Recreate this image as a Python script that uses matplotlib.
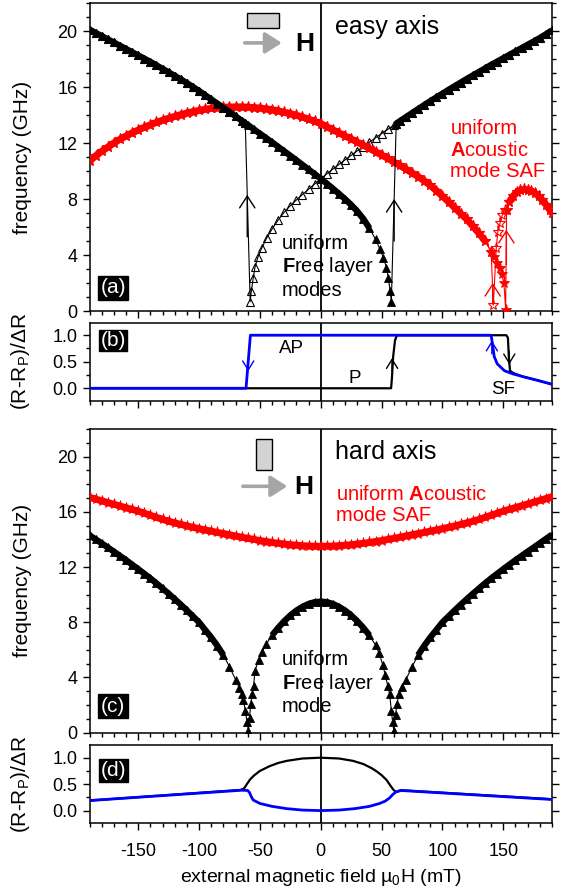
import numpy as np
import matplotlib
matplotlib.use("Agg")
import matplotlib.pyplot as plt
from matplotlib.patches import Rectangle
from matplotlib.ticker import MultipleLocator

plt.rcParams['font.family'] = ['Liberation Sans', 'DejaVu Sans']
plt.rcParams['mathtext.fontset'] = 'custom'
plt.rcParams['mathtext.rm'] = 'Liberation Sans'
plt.rcParams['mathtext.bf'] = 'Liberation Sans:bold'
plt.rcParams['mathtext.it'] = 'Liberation Sans:italic'
plt.rcParams['axes.unicode_minus'] = False

# ---------- (a) easy axis, free layer (field in mT, frequency in GHz)
fl_desc_h = list(range(-190, -64, 5)) + [-62] + list(range(-60, 46, 5)) + [48.5, 51.5, 54, 55.5, 57, 58]
fl_desc_f = [20.10, 19.87, 19.64, 19.41, 19.18, 18.95, 18.72, 18.49, 18.26, 18.03,
             17.80, 17.55, 17.30, 17.05, 16.80, 16.55, 16.28, 16.00, 15.72, 15.42,
             15.12, 14.82, 14.52, 14.22, 13.91, 13.60,
             13.42,
             13.30, 12.98, 12.67, 12.36, 12.05, 11.73, 11.41, 11.09, 10.77, 10.44,
             10.11, 9.78, 9.45, 9.10, 8.74, 8.37, 7.99, 7.58, 7.12, 6.58, 5.92, 5.12,
             4.45, 3.80, 3.10, 2.35, 1.45, 0.67]
fl_rise_h = [-58, -57, -55.5, -54, -51.5, -48.5, -44.5] + list(range(-40, 61, 5)) + [62] + list(range(65, 191, 5))
fl_rise_f = [0.67, 1.45, 2.33, 3.15, 3.88, 4.50, 5.20,
             5.85, 6.50, 7.05, 7.52, 7.93, 8.32, 8.70, 9.07, 9.45, 9.80, 10.14,
             10.47, 10.80, 11.12, 11.44, 11.75, 12.06, 12.37, 12.67, 12.97, 13.27,
             13.39,
             13.56, 13.85, 14.14, 14.43, 14.71, 14.99, 15.26, 15.53, 15.80, 16.06,
             16.32, 16.58, 16.83, 17.08, 17.33, 17.58, 17.82, 18.06, 18.30, 18.54,
             18.78, 19.02, 19.26, 19.50, 19.77, 20.05]

# ---------- (a) easy axis, acoustic mode of the SAF
saf_main_h = list(range(-190, 141, 5)) + [142.5]
saf_main_f = [10.75, 11.08, 11.40, 11.70, 12.00, 12.26, 12.50, 12.72, 12.92, 13.12,
              13.30, 13.47, 13.62, 13.77, 13.90, 14.03, 14.14, 14.24, 14.33, 14.41,
              14.47, 14.52, 14.55, 14.57, 14.58, 14.58, 14.56,
              14.53, 14.50, 14.44, 14.38, 14.30, 14.20, 14.10, 13.98, 13.85, 13.70,
              13.55, 13.38,
              13.16, 12.94, 12.72, 12.50, 12.29, 12.06, 11.84, 11.61, 11.38, 11.14,
              10.90, 10.64, 10.40, 10.13, 9.86, 9.60, 9.30, 8.97, 8.60, 8.20,
              7.80, 7.38, 6.96, 6.55, 6.05, 5.55, 5.00, 4.25,
              3.85]
saf_up_h = [145, 147.2, 148.6, 150.5, 151.9]
saf_up_f = [3.40, 3.05, 2.64, 1.98, 0.07]
saf_lobe_h = [152.7, 155, 158, 161, 164, 167, 170, 173, 176, 179, 182, 185, 188, 190]
saf_lobe_f = [7.20, 7.80, 8.20, 8.48, 8.63, 8.68, 8.66, 8.57, 8.42, 8.20, 7.92, 7.60, 7.25, 7.00]
saf_down_h = [151, 149.2, 147.2, 145.5, 144.2, 141.8]
saf_down_f = [7.20, 6.86, 6.26, 5.67, 4.48, 0.43]

# ---------- (b) easy axis magnetoresistance
mr_a_up_h = [-190, 57.8, 58.5, 59.5, 61, 62.5, 152.5, 153.8, 154.5, 155.5, 158, 166, 178, 190]
mr_a_up_v = [0, 0, 0.2, 0.6, 0.9, 1.0, 1.0, 0.95, 0.6, 0.33, 0.29, 0.22, 0.15, 0.075]
mr_a_dn_h = [-190, -61.4, -57.8, 140, 141.3, 142.5, 145, 151, 158, 166, 178, 190]
mr_a_dn_v = [0, 0, 1.0, 1.0, 0.8, 0.6, 0.46, 0.33, 0.27, 0.22, 0.15, 0.075]

# ---------- (c) hard axis
hfl_h = (list(range(-190, -69, 5)) + [-67, -65, -63.5, -62, -60.5, -59.5]
         + [-58.5, -57.5, -56.3, -55.2, -54, -51, -48, -45] + list(range(-40, 41, 5))
         + [45, 48, 51, 53, 55, 56.6, 58, 59]
         + [60, 61.5, 62.5, 64.5, 67] + list(range(70, 191, 5)))
hfl_f = [14.30, 14.01, 13.72, 13.42, 13.12, 12.81, 12.50, 12.18, 11.85, 11.52,
         11.18, 10.82, 10.45, 10.07, 9.68, 9.28, 8.86, 8.43, 8.00, 7.45,
         6.90, 6.30, 5.62, 4.78, 3.85,
         3.25, 2.80, 2.40, 1.55, 0.80, 0.15,
         1.10, 2.10, 2.80, 3.40, 4.50, 5.30, 5.85, 6.40,
         7.05, 7.60, 8.08, 8.50, 8.85, 9.12, 9.33, 9.46, 9.50, 9.46, 9.33, 9.12,
         8.85, 8.50, 8.08, 7.60, 7.05,
         6.35, 5.75, 4.90, 4.20, 3.40, 2.80, 1.60, 0.80,
         0.15, 1.30, 2.10, 2.80, 3.30,
         3.85, 4.78, 5.62, 6.30, 6.90, 7.45, 8.00, 8.43, 8.86, 9.28,
         9.68, 10.07, 10.45, 10.82, 11.18, 11.52, 11.85, 12.18, 12.50, 12.81,
         13.12, 13.42, 13.73, 14.04, 14.35]
hsaf_h = list(range(-190, 191, 5))
hsaf_f = [17.05, 16.92, 16.80, 16.67, 16.55, 16.42, 16.30, 16.17, 16.05, 15.90,
          15.75, 15.60, 15.45, 15.32, 15.20, 15.09, 14.98, 14.88, 14.78, 14.69,
          14.60, 14.51, 14.43, 14.34, 14.25, 14.16, 14.08, 14.00, 13.92, 13.85,
          13.78, 13.72, 13.67, 13.62, 13.58, 13.55, 13.52, 13.51,
          13.50,
          13.51, 13.52, 13.55, 13.58, 13.62, 13.67, 13.72, 13.78, 13.85, 13.92,
          14.00, 14.08, 14.16, 14.25, 14.34, 14.43, 14.51, 14.60, 14.69, 14.78,
          14.88, 14.98, 15.09, 15.20, 15.32, 15.45, 15.60, 15.75, 15.90, 16.05,
          16.18, 16.31, 16.44, 16.57, 16.70, 16.83, 16.96, 17.10]

# ---------- (d) hard axis magnetoresistance
mr_h_blk_h = [-190, -66, -63, -61, -58, -55, -50, -42, -35, -28, -15, 0,
              15, 26.5, 35, 42, 46, 50, 54, 57, 59.5, 61.5, 66, 190]
mr_h_blk_v = [0.19, 0.39, 0.42, 0.49, 0.59, 0.66, 0.75, 0.84, 0.90, 0.94, 0.985, 1.0,
              0.985, 0.94, 0.88, 0.80, 0.74, 0.67, 0.58, 0.48, 0.40, 0.355, 0.385, 0.215]
mr_h_blu_h = [-190, -65, -60, -58.5, -57, -55.5, -50, -40, -28, -15, 0,
              15, 28, 40, 48.4, 53, 56.6, 59, 61.5, 66, 190]
mr_h_blu_v = [0.19, 0.385, 0.38, 0.34, 0.26, 0.20, 0.135, 0.08, 0.037, 0.01, 0.0,
              0.01, 0.037, 0.08, 0.135, 0.18, 0.24, 0.30, 0.35, 0.38, 0.21]

# assemble sweeps (increasing field = filled, decreasing field = open)
up_h = fl_desc_h + [h for h in fl_rise_h if h > 60]
up_f = fl_desc_f + [f for h, f in zip(fl_rise_h, fl_rise_f) if h > 60]
dn_h = fl_rise_h[::-1] + [h for h in fl_desc_h[::-1] if h < -60]
dn_f = fl_rise_f[::-1] + [f for h, f in zip(fl_desc_h[::-1], fl_desc_f[::-1]) if h < -60]

sup_h = saf_main_h + saf_up_h + saf_lobe_h
sup_f = saf_main_f + saf_up_f + saf_lobe_f
keep = [i for i, h in enumerate(saf_main_h) if h <= 140]
sdn_h = saf_lobe_h[::-1] + saf_down_h + [saf_main_h[i] for i in keep[::-1]]
sdn_f = saf_lobe_f[::-1] + saf_down_f + [saf_main_f[i] for i in keep[::-1]]

fig = plt.figure(figsize=(5.64, 8.91), dpi=100)
L, W = 89.5 / 564, 462.5 / 564
ax_a = fig.add_axes([L, 1 - 311 / 891, W, 308 / 891])
ax_b = fig.add_axes([L, 1 - 401 / 891, W, 78.5 / 891])
ax_c = fig.add_axes([L, 1 - 732.7 / 891, W, 303.7 / 891])
ax_d = fig.add_axes([L, 1 - 823.3 / 891, W, 78.3 / 891])

for ax in (ax_a, ax_b, ax_c, ax_d):
    ax.set_xlim(-190, 190)
    ax.xaxis.set_major_locator(MultipleLocator(50))
    ax.xaxis.set_minor_locator(MultipleLocator(10))
    ax.tick_params(which='both', direction='out', right=True, top=False, labelsize=13, width=1)
    ax.tick_params(which='major', length=5)
    ax.tick_params(which='minor', length=3)
    ax.axvline(0, color='black', lw=1.3, zorder=1)
    for s in ax.spines.values():
        s.set_linewidth(1.1)
    if ax is not ax_d:
        ax.tick_params(labelbottom=False)

for ax in (ax_a, ax_c):
    ax.set_ylim(0, 22)
    ax.yaxis.set_major_locator(MultipleLocator(4))
    ax.yaxis.set_minor_locator(MultipleLocator(1))
    ax.set_ylabel('frequency (GHz)', fontsize=15)
    ax.yaxis.set_label_coords(-0.125, 0.5)
for ax in (ax_b, ax_d):
    ax.set_ylim(-0.24, 1.24)
    ax.yaxis.set_major_locator(MultipleLocator(0.5))
    ax.yaxis.set_minor_locator(MultipleLocator(0.25))
    ax.set_yticks([0, 0.5, 1.0], ['0.0', '0.5', '1.0'])
    ax.set_ylabel(r'(R-R$_\mathregular{P}$)/ΔR', fontsize=15)
    ax.yaxis.set_label_coords(-0.125, 0.5)


def band(ax, h, f, lo, hi, color, lw, z):
    # dense-marker look of the original: a solid band under the symbols
    hs = [x for x in h if lo <= x <= hi]
    fs = [y for x, y in zip(h, f) if lo <= x <= hi]
    ax.plot(hs, fs, color=color, lw=lw, solid_capstyle='butt', zorder=z)


def chevron(ax, x, y, color, hw, hl, dy, up=True):
    y0 = y - dy if up else y + dy
    ax.annotate('', xy=(x, y), xytext=(x, y0),
                arrowprops=dict(arrowstyle='->,head_length=%g,head_width=%g' % (hl, hw),
                                color=color, lw=1.0, shrinkA=0, shrinkB=0), zorder=6)


def panel_tag(ax, s, y, pad):
    ax.text(0.051, y, s, transform=ax.transAxes, color='white', fontsize=15,
            ha='center', va='center',
            bbox=dict(boxstyle='square,pad=%g' % pad, fc='black', ec='black'))


# ---- (a)
ax = ax_a
ax.plot(dn_h, dn_f, '-', color='black', lw=0.8, marker='^', ms=6, mfc='none', mec='black', mew=0.8, zorder=2)
band(ax, saf_main_h, saf_main_f, -190, 136, 'red', 5, 3)
band(ax, saf_lobe_h, saf_lobe_f, 154, 190, 'red', 5, 3)
ax.plot(sdn_h, sdn_f, '-', color='red', lw=0.8, marker='*', ms=8, mfc='none', mec='red', mew=0.8, zorder=3)
ax.plot(sup_h, sup_f, '-', color='red', lw=0.8, marker='*', ms=8, mfc='red', mec='red', mew=0.6, zorder=3)
band(ax, fl_desc_h, fl_desc_f, -190, 42, 'black', 4.5, 4)
band(ax, fl_rise_h, fl_rise_f, 62, 190, 'black', 4.5, 4)
ax.plot(up_h, up_f, '-', color='black', lw=0.8, marker='^', ms=6, mfc='black', mec='black', mew=0.6, zorder=4)
chevron(ax, -60.4, 8.3, 'black', 0.55, 0.85, 3)
chevron(ax, 60.3, 8.0, 'black', 0.55, 0.85, 3)
chevron(ax, 141.3, 2.0, 'red', 0.55, 0.85, 1.5)
chevron(ax, 152.5, 5.8, 'red', 0.55, 0.85, 2.5)
ax.add_patch(Rectangle((-60.2, 20.2), 25.8, 1.1, fc='#d3d3d3', ec='black', lw=1.0, zorder=5))
ax.annotate('', xy=(-32.0, 19.15), xytext=(-62.4, 19.15),
            arrowprops=dict(arrowstyle='-|>,head_length=0.5,head_width=0.32', color='#a5a5a5',
                            lw=2.6, mutation_scale=20, shrinkA=0, shrinkB=0))
ax.text(-12.9, 19.1, 'H', fontsize=19, fontweight='bold', ha='center', va='center')
ax.text(11.8, 20.3, 'easy axis', fontsize=18, ha='left', va='center')
ax.text(106.5, 11.5, 'uniform\n$\\mathbf{A}$coustic\nmode SAF', color='red', fontsize=14.5,
        ha='left', va='center', linespacing=1.15)
ax.text(-32.2, 3.16, 'uniform\n$\\mathbf{F}$ree layer\nmodes', color='black', fontsize=14.5,
        ha='left', va='center', linespacing=1.15)
panel_tag(ax, '(a)', 0.076, 0.12)

# ---- (b)
ax = ax_b
ax.plot(mr_a_up_h, mr_a_up_v, color='black', lw=1.6, zorder=3)
ax.plot(mr_a_dn_h, mr_a_dn_v, color='#0000ff', lw=2.0, zorder=4)
chevron(ax, 58.6, 0.57, 'black', 0.4, 0.65, 0.25)
chevron(ax, 154.9, 0.45, 'black', 0.4, 0.65, 0.25, up=False)
chevron(ax, -59.6, 0.32, '#0000ff', 0.4, 0.65, 0.25, up=False)
chevron(ax, 140.6, 0.9, '#0000ff', 0.4, 0.65, 0.25)
ax.text(-23.7, 0.75, 'AP', fontsize=13.5, ha='center', va='center')
ax.text(28.2, 0.19, 'P', fontsize=13.5, ha='center', va='center')
ax.text(149.7, -0.03, 'SF', fontsize=13.5, ha='center', va='center')
panel_tag(ax, '(b)', 0.77, 0.05)

# ---- (c)
ax = ax_c
band(ax, hsaf_h, hsaf_f, -190, 190, 'red', 5, 3)
ax.plot(hsaf_h, hsaf_f, '-', color='red', lw=0.8, marker='*', ms=8, mfc='red', mec='red', mew=0.6, zorder=3)
band(ax, hfl_h, hfl_f, -190, -78, 'black', 4.5, 4)
band(ax, hfl_h, hfl_f, -42, 42, 'black', 4.5, 4)
band(ax, hfl_h, hfl_f, 78, 190, 'black', 4.5, 4)
ax.plot(hfl_h, hfl_f, '-', color='black', lw=0.8, marker='^', ms=6, mfc='black', mec='black', mew=0.6, zorder=4)
ax.add_patch(Rectangle((-53.5, 19.03), 13.7, 2.24, fc='#d3d3d3', ec='black', lw=1.0, zorder=5))
ax.annotate('', xy=(-27.5, 17.85), xytext=(-64, 17.85),
            arrowprops=dict(arrowstyle='-|>,head_length=0.5,head_width=0.32', color='#a5a5a5',
                            lw=2.6, mutation_scale=20, shrinkA=0, shrinkB=0))
ax.text(-13.8, 17.8, 'H', fontsize=19, fontweight='bold', ha='center', va='center')
ax.text(11.6, 20.3, 'hard axis', fontsize=18, ha='left', va='center')
ax.text(12.9, 16.5, 'uniform $\\mathbf{A}$coustic\nmode SAF', color='red', fontsize=14.5,
        ha='left', va='center', linespacing=1.15)
ax.text(-32.2, 3.6, 'uniform\n$\\mathbf{F}$ree layer\nmode', color='black', fontsize=14.5,
        ha='left', va='center', linespacing=1.15)
panel_tag(ax, '(c)', 0.087, 0.12)

# ---- (d)
ax = ax_d
ax.plot(mr_h_blk_h, mr_h_blk_v, color='black', lw=1.6, zorder=3)
ax.plot(mr_h_blu_h, mr_h_blu_v, color='#0000ff', lw=2.0, zorder=4)
panel_tag(ax, '(d)', 0.674, 0.08)
ax.tick_params(axis='x', which='major', pad=9)
ax.set_xlabel('external magnetic field µ$_\\mathregular{0}$H (mT)', fontsize=14, labelpad=5)

fig.savefig('out.png', dpi=100)
